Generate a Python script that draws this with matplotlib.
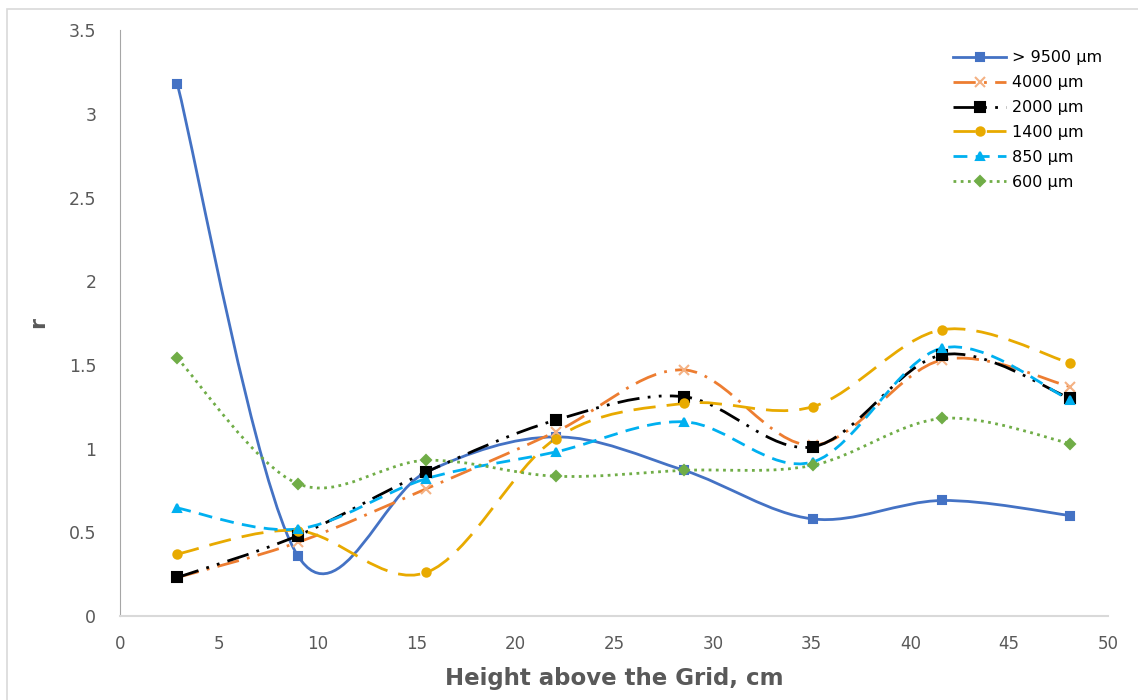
import matplotlib
matplotlib.use("Agg")
import matplotlib.pyplot as plt
from matplotlib.lines import Line2D
from matplotlib.patches import PathPatch, Rectangle
from matplotlib.path import Path
import numpy as np

# Height above the grid (cm) and r for each particle size
height = [2.9, 9.0, 15.5, 22.05, 28.55, 35.05, 41.6, 48.1]

r_9500 = [3.18, 0.36, 0.86, 1.07, 0.87, 0.58, 0.69, 0.60]
r_4000 = [0.23, 0.44, 0.76, 1.10, 1.47, 1.02, 1.53, 1.37]
r_2000 = [0.23, 0.48, 0.86, 1.17, 1.31, 1.01, 1.56, 1.30]
r_1400 = [0.37, 0.51, 0.26, 1.06, 1.27, 1.25, 1.71, 1.51]
r_850 = [0.645, 0.52, 0.82, 0.98, 1.16, 0.92, 1.60, 1.29]
r_600 = [1.54, 0.79, 0.93, 0.835, 0.87, 0.90, 1.18, 1.03]

labels = ["> 9500 µm", "4000 µm", "2000 µm", "1400 µm", "850 µm", "600 µm"]

NARROW = ["Liberation Sans Narrow", "DejaVu Sans Condensed", "DejaVu Sans"]


def smooth_path(x, y):
    """Catmull-Rom style cubic Bezier path through the points."""
    pts = np.column_stack([x, y]).astype(float)
    n = len(pts)
    verts = [pts[0]]
    codes = [Path.MOVETO]
    for i in range(n - 1):
        p0 = pts[max(i - 1, 0)]
        p1 = pts[i]
        p2 = pts[i + 1]
        p3 = pts[min(i + 2, n - 1)]
        c1 = p1 + (p2 - p0) / 6.0
        c2 = p2 - (p3 - p1) / 6.0
        verts += [c1, c2, p2]
        codes += [Path.CURVE4] * 3
    return Path(verts, codes)


series = [
    (r_9500, dict(color="#4472C4", ls="-", marker="s", ms=6, mfc="#4472C4", mec="#4472C4")),
    (r_4000, dict(color="#ED7D31", ls=(0, (8, 3, 1, 3)), marker="x", ms=7, mfc="#F4B183", mec="#F4B183")),
    (r_2000, dict(color="black", ls=(0, (8, 3, 1, 3, 1, 3)), marker="s", ms=6.5, mfc="black", mec="black")),
    (r_1400, dict(color="#E8AA00", ls=(0, (8, 4)), marker="o", ms=6, mfc="#E8AA00", mec="#E8AA00")),
    (r_850, dict(color="#00B0F0", ls=(0, (5, 3)), marker="^", ms=6, mfc="#00B0F0", mec="#00B0F0")),
    (r_600, dict(color="#70AD47", ls=(0, (1, 1.6)), marker="D", ms=5, mfc="#70AD47", mec="#70AD47")),
]

fig = plt.figure(figsize=(11.38, 7.0), dpi=100)
ax = fig.add_axes([0.1054, 0.12, 0.8682, 0.837])

# thin chart-area frame
fig.patches.append(Rectangle((7 / 1138, -0.01), 1.02, 1 - 9 / 700 + 0.01,
                             transform=fig.transFigure, fill=False,
                             edgecolor="#D9D9D9", lw=1.2))

handles = []
for y, st in series:
    patch = PathPatch(smooth_path(height, y), fill=False, edgecolor=st["color"],
                      lw=2.0, linestyle=st["ls"], capstyle="butt", zorder=2)
    ax.add_patch(patch)
    ax.plot(height, y, linestyle="none", marker=st["marker"], ms=st["ms"],
            mfc=st["mfc"], mec=st["mec"], mew=1.5, zorder=3)
    handles.append(Line2D([], [], color=st["color"], lw=2.0, linestyle=st["ls"],
                          marker=st["marker"], ms=st["ms"], mfc=st["mfc"],
                          mec=st["mec"], mew=1.5))

ax.set_xlim(0, 50)
ax.set_ylim(0, 3.5)
ax.set_xticks(np.arange(0, 51, 5))
ax.set_yticks(np.arange(0, 3.51, 0.5))
ax.set_yticklabels(["0", "0.5", "1", "1.5", "2", "2.5", "3", "3.5"])

for side in ("top", "right"):
    ax.spines[side].set_visible(False)
ax.spines["left"].set_color("#A6A6A6")
ax.spines["bottom"].set_color("#D9D9D9")
ax.spines["bottom"].set_linewidth(1.5)
ax.tick_params(length=0)
ax.tick_params(axis="y", labelsize=12.5, labelcolor="#595959", pad=17)
ax.tick_params(axis="x", labelsize=12, labelcolor="#595959", pad=14)
for t in ax.get_xticklabels():
    t.set_family(NARROW)

ax.set_xlabel("Height above the Grid, cm", family=NARROW, fontsize=16.5,
              fontweight="bold", color="#595959", labelpad=10)
fig.text(38 / 1138, 1 - 322 / 700, "r", rotation=90, ha="center", va="center",
         fontsize=16, fontweight="bold", color="#595959")

ax.legend(handles, labels, loc="upper left", bbox_to_anchor=(0.829, 0.99),
          frameon=False, fontsize=11.5, handlelength=3.3, labelspacing=0.62,
          handletextpad=0.4, labelcolor="black")

fig.savefig("out.png", dpi=100)
